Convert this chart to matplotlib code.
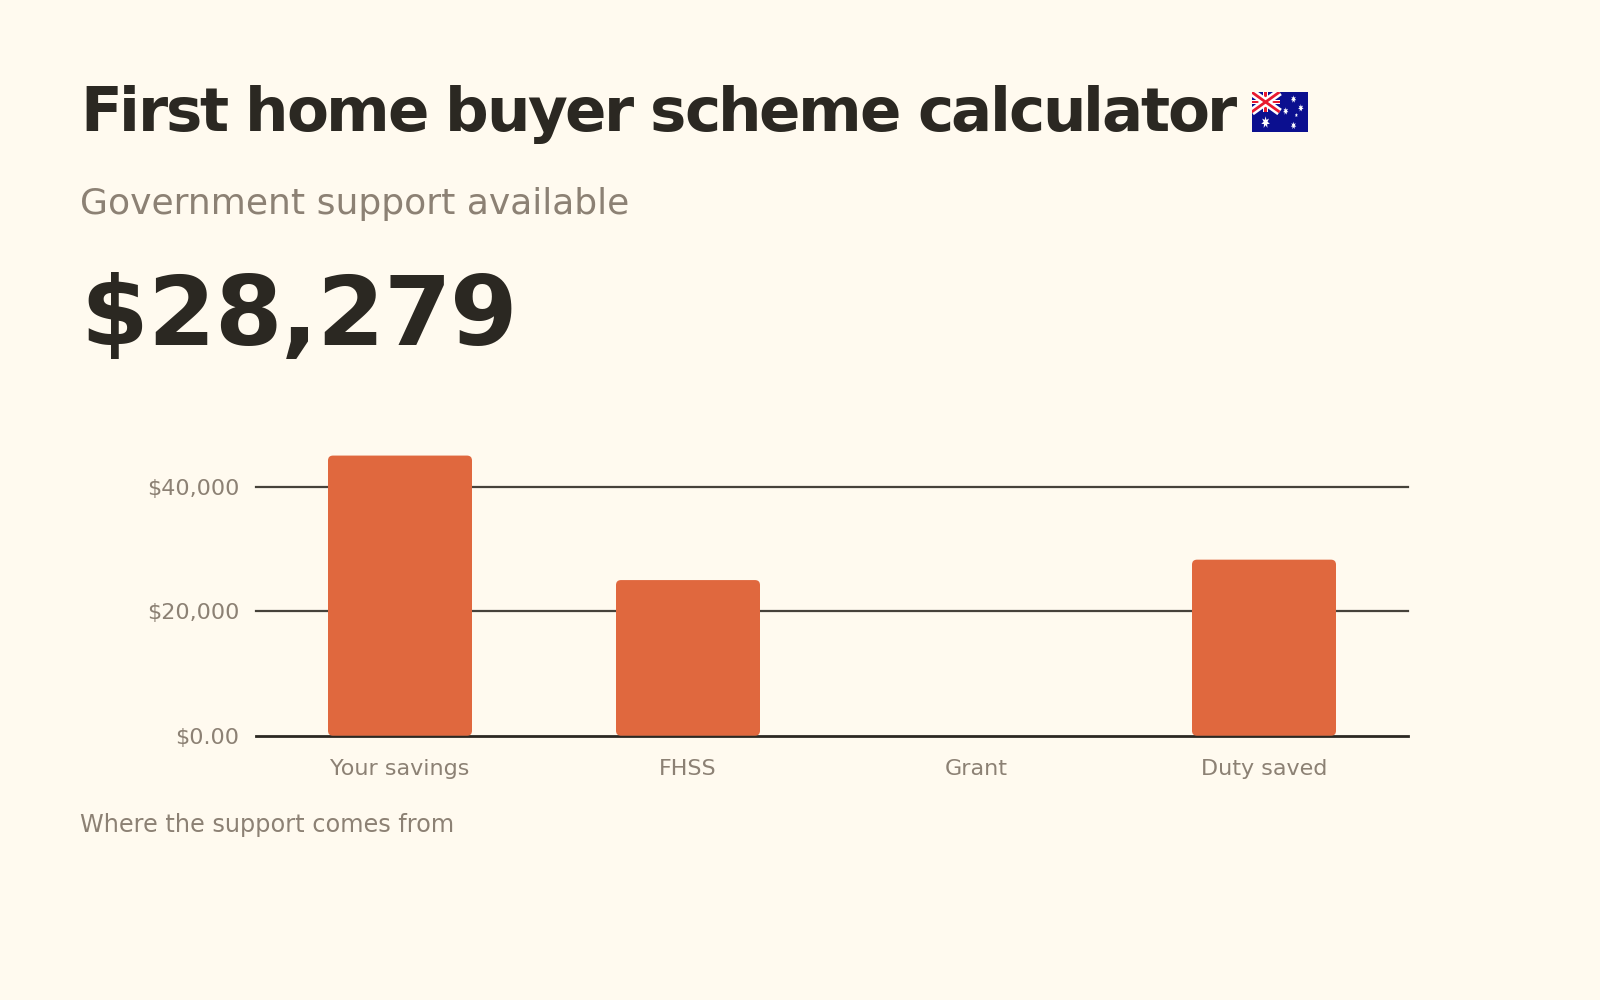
import matplotlib
matplotlib.use("Agg")
import matplotlib.pyplot as plt
from matplotlib.patches import FancyBboxPatch, Rectangle, Polygon
from matplotlib import ft2font, font_manager
from matplotlib.font_manager import FontProperties
import numpy as np

categories = ["Your savings", "FHSS", "Grant", "Duty saved"]
values = [45000, 25000, 0, 28279]
yticks = [0, 20000, 40000]
ytick_labels = ["$0.00", "$20,000", "$40,000"]
title = "First home buyer scheme calculator"
subtitle = "Government support available"
headline = "$28,279"
footer = "Where the support comes from"

BG = "#fffaef"
DARK = "#2b2822"
GREY = "#8c8174"
GRID = "#46423a"
BAR = "#e0683e"

W, H = 1600, 1000
DPI = 100
fig = plt.figure(figsize=(16, 10), dpi=DPI, facecolor=BG)


def fx(px):
    return px / W


def fy(py):
    return 1 - py / H


try:
    KD = ft2font.Kerning.DEFAULT
except AttributeError:
    KD = ft2font.KERNING_DEFAULT
try:
    NOHINT = ft2font.LoadFlags.NO_HINTING
except AttributeError:
    NOHINT = ft2font.LOAD_NO_HINTING


def spaced_text(x0, ybase, s, size, weight, color, spacing):
    """Draw text with CSS-like letter spacing (pixels). Returns pen end x."""
    prop = FontProperties(family="DejaVu Sans", weight=weight)
    f = ft2font.FT2Font(font_manager.findfont(prop))
    f.set_size(size, DPI)
    x = 0.0
    prev = None
    for c in s:
        gi = f.get_char_index(ord(c))
        if prev is not None:
            x += f.get_kerning(prev, gi, KD) / 64 + spacing
        if c != " ":
            fig.text(fx(x0 + x), fy(ybase), c, fontsize=size, fontweight=weight,
                     color=color, ha="left", va="baseline", family="DejaVu Sans")
        g = f.load_char(ord(c), flags=NOHINT)
        x += g.linearHoriAdvance / 65536
        prev = gi
    return x0 + x


title_end = spaced_text(80, 130.5, title, 44, "bold", DARK, -2.45)
fig.text(fx(80), fy(214), subtitle, fontsize=26, color=GREY, ha="left", va="baseline")
spaced_text(80, 345, headline, 70, "bold", DARK, -0.8)
fig.text(fx(80), fy(832), footer, fontsize=17.3, color=GREY, ha="left", va="baseline")

# axes
ymax = 48000
px_per_unit = 124.5 / 20000
ax_h = ymax * px_per_unit
ax = fig.add_axes([fx(256), fy(735.7), fx(1408) - fx(256), ax_h / H])
ax.set_facecolor(BG)
ax.patch.set_alpha(0)
ax.set_xlim(-0.5, len(categories) - 0.5)
ax.set_ylim(0, ymax)
for s in ax.spines.values():
    s.set_visible(False)
ax.set_yticks(yticks)
ax.set_yticklabels(ytick_labels)
ax.set_xticks(range(len(categories)))
ax.set_xticklabels(categories)
ax.tick_params(axis="both", length=0, labelsize=16, labelcolor=GREY)
ax.tick_params(axis="y", pad=12)
ax.tick_params(axis="x", pad=17)
for yv in yticks:
    ax.axhline(yv, color=GRID if yv else DARK, lw=1.6 if yv else 2.0,
               zorder=1, clip_on=False)

bw = 0.5
x_units_per_px = len(categories) / 1152
rx = 5 * x_units_per_px
ry = 5 / px_per_unit
for i, v in enumerate(values):
    if v <= 0:
        continue
    p = FancyBboxPatch((i - bw / 2, 0), bw, v,
                       boxstyle=f"round,pad=0,rounding_size={rx}",
                       mutation_aspect=ry / rx,
                       facecolor=BAR, edgecolor="none", zorder=3)
    ax.add_patch(p)

# flag (Australian) after the title
fl = title_end + 15
ftop = 92
fw, fh = 56, 40
fax = fig.add_axes([fl / W, 1 - (ftop + fh) / H, fw / W, fh / H])
fax.set_xlim(0, 2)
fax.set_ylim(0, 1)
fax.axis("off")
navy = "#0b0f8f"
red = "#e8192f"
fax.add_patch(Rectangle((0, 0), 2, 1, facecolor=navy, edgecolor="none"))
fax.plot([0, 1], [0.5, 1], color="white", lw=5.5, solid_capstyle="butt")
fax.plot([0, 1], [1, 0.5], color="white", lw=5.5, solid_capstyle="butt")
fax.plot([0, 1], [0.5, 1], color=red, lw=2, solid_capstyle="butt")
fax.plot([0, 1], [1, 0.5], color=red, lw=2, solid_capstyle="butt")
fax.add_patch(Rectangle((0, 0.69), 1, 0.12, facecolor="white", edgecolor="none"))
fax.add_patch(Rectangle((0.42, 0.5), 0.16, 0.5, facecolor="white", edgecolor="none"))
fax.add_patch(Rectangle((0, 0.715), 1, 0.07, facecolor=red, edgecolor="none"))
fax.add_patch(Rectangle((0.455, 0.5), 0.09, 0.5, facecolor=red, edgecolor="none"))


def star(cx, cy, r, n=7):
    ang = np.linspace(0, 2 * np.pi, 2 * n, endpoint=False) + np.pi / 2
    rad = np.where(np.arange(2 * n) % 2 == 0, r, r * 0.45)
    pts = np.c_[cx + rad * np.cos(ang) * 1.43, cy + rad * np.sin(ang) * 1.4]
    fax.add_patch(Polygon(pts, closed=True, facecolor="white", edgecolor="none"))


star(0.5, 0.24, 0.11)
star(1.5, 0.82, 0.07)
star(1.22, 0.52, 0.07)
star(1.76, 0.6, 0.07)
star(1.5, 0.16, 0.07)
star(1.6, 0.42, 0.04, n=5)

fig.savefig("out.png", dpi=DPI, facecolor=BG)
